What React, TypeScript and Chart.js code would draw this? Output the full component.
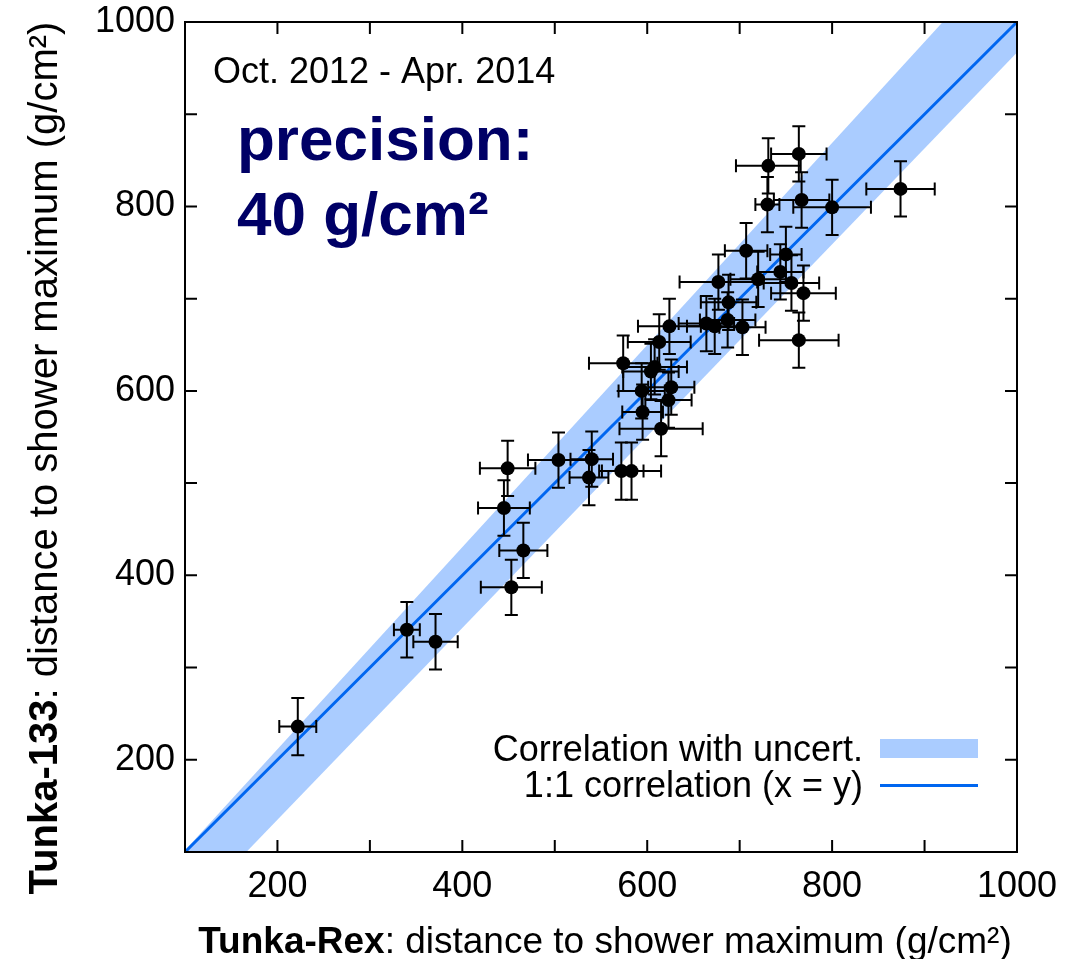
import { useEffect, useRef } from 'react';
import { Chart, registerables } from 'chart.js';

Chart.register(...registerables);

// Tunka-Rex Xmax distance (x) and Tunka-133 Xmax distance (y), g/cm²
const rexX = [222, 340, 371, 445, 466, 453, 449, 504, 540, 537, 572, 583, 615, 574, 624, 613, 604, 608, 594, 626, 623, 595, 664, 673, 688, 687, 703, 707, 750, 677, 720, 744, 756, 769, 764, 764, 731, 767, 730, 800, 874];
const tunkaY = [236, 341, 328, 473, 427, 387, 516, 525, 526, 506, 513, 513, 559, 630, 670, 653, 621, 626, 600, 604, 590, 577, 673, 670, 696, 677, 669, 752, 748, 718, 721, 729, 717, 706, 655, 857, 844, 807, 802, 799, 819];
const rexErr = [20, 14, 24, 28, 26, 33, 30, 33, 23, 21, 24, 32, 45, 37, 34, 34, 30, 35, 25, 25, 25, 22, 30, 30, 30, 30, 25, 23, 17, 42, 30, 25, 30, 35, 43, 30, 35, 30, 13, 42, 37];
const tunkaErr = [31, 30, 30, 30, 30, 30, 30, 30, 30, 30, 31, 31, 30, 30, 30, 30, 30, 30, 30, 30, 30, 30, 30, 30, 30, 30, 30, 30, 30, 30, 30, 30, 30, 30, 30, 30, 30, 30, 30, 30, 30];

// correlation band (with uncertainty) and 1:1 line
const bandX = [100, 1000];
const bandUpper = [102, 1088];
const bandLower = [31, 967];
const diagX = [100, 1000];
const diagY = [100, 1000];

const tickValues = [100, 200, 300, 400, 500, 600, 700, 800, 900, 1000];
const labeledTicks = [200, 400, 600, 800, 1000];

const periodText = 'Oct. 2012 - Apr. 2014';
const precisionLines = ['precision:', '40 g/cm²'];
const legendLabels = ['Correlation with uncert.', '1:1 correlation (x = y)'];
const xTitle = ['Tunka-Rex', ': distance to shower maximum (g/cm²)'];
const yTitle = ['Tunka-133', ': distance to shower maximum (g/cm²)'];

const FONT = '"Liberation Sans", Arial, Helvetica, sans-serif';
const BAND = 'rgb(170,204,255)';
const LINE = 'rgb(0,102,240)';
const NAVY = '#000066';

export default function App() {
  const ref = useRef<HTMLCanvasElement>(null);

  useEffect(() => {
    document.body.style.margin = '0';
    const canvas = ref.current!;
    const points = rexX.map((x, i) => ({ x, y: tunkaY[i] }));

    const overlay = {
      id: 'overlay',
      afterDatasetsDraw(chart: any) {
        const ctx = chart.ctx as CanvasRenderingContext2D;
        const xs = chart.scales.x;
        const ys = chart.scales.y;
        const a = chart.chartArea;
        ctx.save();
        // error bars
        ctx.strokeStyle = '#000';
        ctx.lineWidth = 2;
        const cap = 6.5;
        for (let i = 0; i < rexX.length; i++) {
          const px = xs.getPixelForValue(rexX[i]);
          const py = ys.getPixelForValue(tunkaY[i]);
          const x0 = xs.getPixelForValue(rexX[i] - rexErr[i]);
          const x1 = xs.getPixelForValue(rexX[i] + rexErr[i]);
          const y0 = ys.getPixelForValue(tunkaY[i] - tunkaErr[i]);
          const y1 = ys.getPixelForValue(tunkaY[i] + tunkaErr[i]);
          ctx.beginPath();
          ctx.moveTo(x0, py); ctx.lineTo(x1, py);
          ctx.moveTo(x0, py - cap); ctx.lineTo(x0, py + cap);
          ctx.moveTo(x1, py - cap); ctx.lineTo(x1, py + cap);
          ctx.moveTo(px, y0); ctx.lineTo(px, y1);
          ctx.moveTo(px - cap, y0); ctx.lineTo(px + cap, y0);
          ctx.moveTo(px - cap, y1); ctx.lineTo(px + cap, y1);
          ctx.stroke();
        }
        // frame
        ctx.lineWidth = 2;
        ctx.strokeRect(a.left, a.top, a.right - a.left, a.bottom - a.top);
        // inward ticks
        const tl = 12;
        ctx.beginPath();
        for (const v of tickValues) {
          const px = xs.getPixelForValue(v);
          ctx.moveTo(px, a.bottom); ctx.lineTo(px, a.bottom - tl);
          ctx.moveTo(px, a.top); ctx.lineTo(px, a.top + tl);
          const py = ys.getPixelForValue(v);
          ctx.moveTo(a.left, py); ctx.lineTo(a.left + tl, py);
          ctx.moveTo(a.right, py); ctx.lineTo(a.right - tl, py);
        }
        ctx.stroke();

        // period text
        ctx.fillStyle = '#000';
        ctx.textBaseline = 'alphabetic';
        ctx.textAlign = 'left';
        ctx.font = `36px ${FONT}`;
        ctx.fillText(periodText, 213, 83);
        // precision
        ctx.fillStyle = NAVY;
        ctx.font = `bold 62px ${FONT}`;
        ctx.fillText(precisionLines[0], 237, 160);
        ctx.fillText(precisionLines[1], 237, 235);

        // legend
        ctx.fillStyle = '#000';
        ctx.font = `36px ${FONT}`;
        ctx.textAlign = 'right';
        ctx.fillText(legendLabels[0], 863, 761);
        ctx.fillText(legendLabels[1], 863, 797);
        ctx.fillStyle = BAND;
        ctx.fillRect(880, 739, 98, 19);
        ctx.strokeStyle = LINE;
        ctx.lineWidth = 3;
        ctx.beginPath();
        ctx.moveTo(880, 785.5); ctx.lineTo(978, 785.5);
        ctx.stroke();

        // axis titles
        ctx.fillStyle = '#000';
        ctx.textAlign = 'left';
        const drawMixed = (parts: string[], size: number, cx: number) => {
          ctx.font = `bold ${size}px ${FONT}`;
          const w0 = ctx.measureText(parts[0]).width;
          ctx.font = `${size}px ${FONT}`;
          const w1 = ctx.measureText(parts[1]).width;
          const start = cx - (w0 + w1) / 2;
          ctx.font = `bold ${size}px ${FONT}`;
          ctx.fillText(parts[0], start, 0);
          ctx.font = `${size}px ${FONT}`;
          ctx.fillText(parts[1], start + w0, 0);
        };
        ctx.save();
        ctx.translate(0, 953);
        drawMixed(xTitle, 37, 605);
        ctx.restore();
        ctx.save();
        ctx.translate(57, 0);
        ctx.rotate(-Math.PI / 2);
        drawMixed(yTitle, 40, -458);
        ctx.restore();

        ctx.restore();
      },
    };

    const chart = new Chart(canvas, {
      type: 'scatter',
      data: {
        datasets: [
          {
            type: 'line',
            label: 'band-lower',
            data: bandX.map((x, i) => ({ x, y: bandLower[i] })),
            borderWidth: 0,
            pointRadius: 0,
            fill: false,
            order: 3,
          } as any,
          {
            type: 'line',
            label: legendLabels[0],
            data: bandX.map((x, i) => ({ x, y: bandUpper[i] })),
            borderWidth: 0,
            pointRadius: 0,
            fill: '-1',
            backgroundColor: BAND,
            order: 3,
          } as any,
          {
            type: 'line',
            label: legendLabels[1],
            data: diagX.map((x, i) => ({ x, y: diagY[i] })),
            borderColor: LINE,
            borderWidth: 3,
            pointRadius: 0,
            fill: false,
            order: 2,
          } as any,
          {
            type: 'scatter',
            label: 'events',
            data: points,
            backgroundColor: '#000',
            borderWidth: 0,
            pointRadius: 7,
            order: 1,
          } as any,
        ],
      },
      options: {
        responsive: false,
        animation: false,
        layout: { padding: { top: 22, right: 66, left: 0, bottom: 0 } },
        plugins: { legend: { display: false }, tooltip: { enabled: false } },
        scales: {
          x: {
            type: 'linear',
            min: 100,
            max: 1000,
            afterFit: (s: any) => { s.height = 107; s.paddingLeft = 0; s.paddingRight = 0; },
            grid: { display: false },
            border: { display: false },
            ticks: {
              stepSize: 100,
              autoSkip: false,
              maxRotation: 0,
              padding: 5,
              color: '#000',
              font: { family: FONT, size: 36 },
              callback: (v: any) => (labeledTicks.includes(Number(v)) ? String(v) : ''),
            },
          },
          y: {
            type: 'linear',
            min: 100,
            max: 1000,
            afterFit: (s: any) => { s.width = 185; s.paddingTop = 0; s.paddingBottom = 0; },
            grid: { display: false },
            border: { display: false },
            ticks: {
              stepSize: 100,
              autoSkip: false,
              padding: 2,
              color: '#000',
              font: { family: FONT, size: 36 },
              callback: (v: any) => (labeledTicks.includes(Number(v)) ? String(v) : ''),
            },
          },
        },
      } as any,
      plugins: [overlay],
    });
    return () => chart.destroy();
  }, []);

  return <canvas ref={ref} width={1083} height={959} style={{ display: 'block' }} />;
}
